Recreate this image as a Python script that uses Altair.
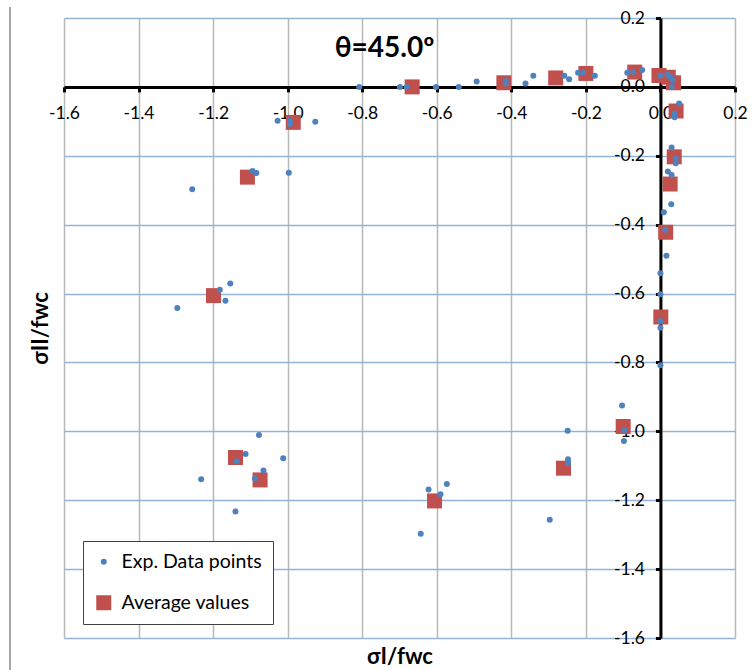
import altair as alt
import pandas as pd

# ---- data ----
series_names = ["Exp. Data points", "Average values"]

avg_x = [-0.666, -0.420, -0.281, -0.200, -0.069, -0.004, 0.021, 0.035, 0.042, 0.037,
         0.026, 0.014, 0.001, -0.100, -0.260, -0.606, -1.074, -1.140, -1.199, -1.108, -0.985]
avg_y = [0.000, 0.012, 0.026, 0.039, 0.043, 0.033, 0.028, 0.012, -0.070, -0.203,
         -0.282, -0.422, -0.668, -0.986, -1.107, -1.202, -1.141, -1.076, -0.606, -0.262, -0.103]

exp_x = [-0.808, -0.699, -0.681, -0.602, -0.541, -0.493, -0.415, -0.415, -0.362, -0.341,
         -0.258, -0.245, -0.221, -0.208, -0.176, -0.089, -0.073, -0.049, 0.000, 0.019,
         0.026, 0.033, 0.030,
         0.050, 0.038, 0.038, 0.030, 0.041, 0.041, 0.020, 0.030, 0.029, 0.009,
         0.013, 0.016, 0.000, 0.000, 0.000, 0.000, 0.000,
         -0.103, -0.097, -0.098, -0.249, -0.248, -0.248, -0.297,
         -0.622, -0.573, -0.590, -0.643,
         -1.077, -1.113, -1.137, -1.012, -1.065, -1.088, -1.232, -1.140,
         -1.154, -1.182, -1.167, -1.296,
         -1.094, -1.084, -0.997, -1.256,
         -1.027, -0.994, -0.994, -0.926]
exp_y = [0.000, 0.000, 0.000, 0.000, 0.000, 0.016, 0.017, 0.010, 0.010, 0.032,
         0.032, 0.022, 0.041, 0.041, 0.032, 0.041, 0.043, 0.049, 0.032, 0.035,
         0.030, 0.020, 0.000,
         -0.048, -0.077, -0.088, -0.176, -0.207, -0.222, -0.246, -0.256, -0.341, -0.364,
         -0.415, -0.490, -0.541, -0.602, -0.680, -0.699, -0.808,
         -0.925, -0.996, -1.028, -0.998, -1.081, -1.093, -1.257,
         -1.169, -1.153, -1.183, -1.297,
         -1.011, -1.066, -1.087, -1.078, -1.114, -1.137, -1.139, -1.233,
         -0.571, -0.589, -0.621, -0.642,
         -0.244, -0.250, -0.249, -0.297,
         -0.098, -0.098, -0.108, -0.101]

x_ticks = [-1.6, -1.4, -1.2, -1.0, -0.8, -0.6, -0.4, -0.2, 0.0, 0.2]
y_ticks = [-1.6, -1.4, -1.2, -1.0, -0.8, -0.6, -0.4, -0.2, 0.0, 0.2]

df = pd.concat([
    pd.DataFrame({"x": avg_x, "y": avg_y, "series": series_names[1]}),
    pd.DataFrame({"x": exp_x, "y": exp_y, "series": series_names[0]}),
], ignore_index=True)

W, H = 671, 620
x_dom = [-1.6, 0.2]
y_dom = [-1.6, 0.2]
# axes cross at zero
y_axis_offset = -(0 - x_dom[0]) / (x_dom[1] - x_dom[0]) * W
x_axis_offset = -(0 - y_dom[0]) / (y_dom[1] - y_dom[0]) * H

label_expr = "replace(format(datum.value, '.1f'), '\u2212', '-')"

legend = alt.Legend(title=None, orient="none", legendX=19, legendY=523)

points = alt.Chart(df).mark_point(filled=True, opacity=1, strokeWidth=0).encode(
    x=alt.X("x:Q",
            scale=alt.Scale(domain=x_dom, nice=False, zero=False),
            axis=alt.Axis(values=x_ticks, labelExpr=label_expr, orient="bottom",
                          offset=x_axis_offset, title="σI/fwc", titleY=570,
                          titleBaseline="middle", labelFlush=False, labelPadding=13,
                          gridColor="#b8b8b8", gridWidth=1.5)),
    y=alt.Y("y:Q",
            scale=alt.Scale(domain=y_dom, nice=False, zero=False),
            axis=alt.Axis(values=y_ticks, labelExpr=label_expr, orient="left",
                          offset=y_axis_offset, title="σII/fwc",
                          titleX=-620, titleY=H / 2, titleAngle=-90,
                          titleAlign="center", titleBaseline="middle",
                          labelFlush=False, labelPadding=11,
                          gridColor="#95b3d7", gridWidth=1.5)),
    color=alt.Color("series:N",
                    scale=alt.Scale(domain=series_names, range=["#4f81bd", "#c0504d"]),
                    legend=legend),
    shape=alt.Shape("series:N",
                    scale=alt.Scale(domain=series_names, range=["circle", "square"]),
                    legend=legend),
    size=alt.Size("series:N",
                  scale=alt.Scale(domain=series_names, range=[36, 225]),
                  legend=legend),
)

frame_line = alt.Chart(df).mark_rule(color="#a6a6a6", strokeWidth=2).encode(
    x=alt.value(-54), y=alt.value(-11), y2=alt.value(652)
)

chart = alt.layer(frame_line, points).properties(
    width=W, height=H,
    padding={"left": 64, "top": 18, "right": 21, "bottom": 32},
    autosize=alt.AutoSizeParams(type="none"),
    title=alt.TitleParams(text="θ=45.0º", font="Lato", fontSize=28, fontWeight="bold",
                          color="#000000", anchor="middle", dx=-15, offset=-57),
).configure(
    font="Lato",
    background="#ffffff",
).configure_view(
    stroke=None,
).configure_axis(
    domainColor="#000000", domainWidth=3,
    tickColor="#000000", tickWidth=3, tickSize=5,
    labelFont="Lato", labelFontSize=17.5, labelColor="#000000",
    titleFont="Lato", titleFontSize=22, titleFontWeight="bold", titleColor="#000000",
    labelOverlap=False,
).configure_legend(
    strokeColor="#404040", fillColor="#ffffff", padding=11, rowPadding=20,
    labelFont="Lato", labelFontSize=19.5, labelColor="#000000", labelOffset=8,
    symbolStrokeWidth=0,
)

chart.save("out.html", embed_options={"renderer": "svg", "actions": False})
